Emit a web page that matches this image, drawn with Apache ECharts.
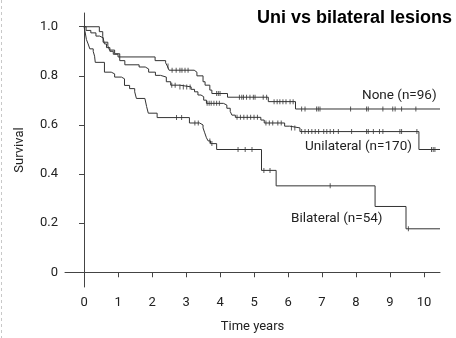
<!DOCTYPE html>
<html>
<head>
<meta charset="utf-8">
<script src="https://cdn.jsdelivr.net/npm/echarts@6/dist/echarts.min.js"></script>
<style>
html,body{margin:0;padding:0;background:#fff;}
#main{width:456px;height:338px;}
</style>
</head>
<body>
<div id="main"></div>
<script>
// ---- Data ----
var xTicks = [0,1,2,3,4,5,6,7,8,9,10];
var yTicks = [0,0.2,0.4,0.6,0.8,1.0];
var xEnd = 10.47;

// Kaplan-Meier step data: survival value from time t onwards
var noneT = [0,0.45,0.55,0.6,0.66,0.76,0.86,1.0,2.09,2.4,2.45,2.5,3.24,3.32,3.5,3.56,3.7,3.76,4.22,5.42,6.22];
var noneS = [1.0,0.98,0.96,0.93,0.915,0.90,0.888,0.877,0.862,0.853,0.84,0.823,0.815,0.80,0.776,0.762,0.742,0.728,0.713,0.695,0.665];

var uniT = [0,0.06,0.2,0.35,0.46,0.56,0.7,0.75,0.9,1.05,1.2,1.62,1.8,1.9,2.1,2.25,2.42,2.55,2.82,3.15,3.25,3.35,3.44,3.52,3.6,4.1,4.2,4.3,4.35,4.45,5.2,5.3,5.9,6.05,6.35,9.85];
var uniS = [1.0,0.985,0.975,0.962,0.955,0.937,0.922,0.905,0.89,0.862,0.845,0.836,0.828,0.815,0.802,0.795,0.776,0.762,0.755,0.745,0.735,0.722,0.715,0.701,0.688,0.681,0.668,0.655,0.64,0.631,0.62,0.608,0.595,0.588,0.573,0.50];

var biT = [0,0.03,0.07,0.12,0.17,0.27,0.31,0.33,0.6,0.8,0.9,1.1,1.19,1.34,1.49,1.54,1.79,1.84,1.89,2.15,3.1,3.4,3.5,3.55,3.6,3.65,3.72,3.9,5.22,5.65,8.56,9.47];
var biS = [1.0,0.98,0.948,0.93,0.91,0.90,0.88,0.855,0.815,0.808,0.795,0.788,0.761,0.748,0.735,0.708,0.70,0.675,0.648,0.63,0.608,0.60,0.588,0.568,0.548,0.535,0.524,0.50,0.415,0.352,0.268,0.177];

// Censoring times
var noneCensor = [2.47,2.59,2.71,2.82,2.88,2.97,3.06,3.9,3.95,4.0,4.57,4.64,4.69,4.78,4.88,4.98,5.03,5.27,5.37,5.59,5.68,5.76,5.85,5.94,6.06,6.15,6.4,6.5,6.84,6.89,6.94,7.84,8.31,8.36,8.79,9.08,9.15,9.34,9.76];
var uniCensor = [2.58,2.68,2.82,2.92,3.02,3.12,3.62,3.68,3.74,3.82,3.9,3.98,4.5,4.6,4.7,4.8,4.9,5.0,5.1,5.35,5.45,5.55,5.7,5.8,6.1,6.2,6.4,6.5,6.6,6.7,6.8,6.9,7.05,7.14,7.24,7.34,7.48,7.87,8.31,8.36,8.51,8.69,8.79,9.29,9.34,9.79,10.22,10.27,10.32];
var biCensor = [2.72,2.87,3.26,3.36,3.7,3.76,4.53,4.74,4.94,5.29,5.47,7.24,9.54];

var groupNames = ['None (n=96)','Unilateral (n=170)','Bilateral (n=54)'];

// ---- build series from data ----
function stepPoints(T, S) {
  var pts = T.map(function (t, i) { return [t, S[i]]; });
  pts.push([xEnd, S[S.length - 1]]);
  return pts;
}
function survAt(T, S, t) {
  var v = S[0];
  for (var i = 0; i < T.length; i++) { if (T[i] <= t) v = S[i]; }
  return v;
}
function censorPoints(T, S, C) {
  return C.map(function (t) { return [t, survAt(T, S, t)]; });
}

var lineColor = '#333';
function kmLine(name, T, S) {
  return {
    name: name, type: 'line', step: 'end', data: stepPoints(T, S),
    symbol: 'none', lineStyle: { color: lineColor, width: 1 }, silent: true, z: 2
  };
}
function censorSeries(name, T, S, C) {
  return {
    name: name + ' censor', type: 'scatter', data: censorPoints(T, S, C),
    symbol: 'rect', symbolSize: [1, 5], itemStyle: { color: lineColor }, silent: true, z: 3
  };
}

var chart = echarts.init(document.getElementById('main'), null, { renderer: 'canvas' });
var axisFont = 'Roboto, "DejaVu Sans", sans-serif';
chart.setOption({
  animation: false,
  backgroundColor: '#fff',
  title: {
    text: 'Uni vs bilateral lesions',
    right: 4, top: 9, padding: 0,
    textStyle: { fontFamily: 'Liberation Sans, Arial, sans-serif', fontWeight: 'bold', fontSize: 18, color: '#000' }
  },
  grid: { left: 65, right: 16, top: 13, bottom: 46 },
  xAxis: {
    type: 'value', min: -0.56, max: 10.47,
    name: 'Time years', nameLocation: 'middle', nameGap: 33,
    nameTextStyle: { fontFamily: axisFont, fontSize: 13, color: '#222' },
    axisLine: { show: true, lineStyle: { color: '#444', width: 1 } },
    axisTick: { show: true, length: 5, lineStyle: { color: '#444' }, customValues: xTicks },
    axisLabel: { fontFamily: axisFont, fontSize: 13, color: '#222', margin: 9, customValues: xTicks, formatter: function (v) { return String(v); } },
    splitLine: { show: false }
  },
  yAxis: {
    type: 'value', min: -0.06, max: 1.056,
    name: 'Survival', nameLocation: 'middle', nameGap: 39,
    nameTextStyle: { fontFamily: axisFont, fontSize: 13, color: '#222' },
    axisLine: { show: true, lineStyle: { color: '#444', width: 1 } },
    axisTick: { show: true, length: 5, lineStyle: { color: '#444' }, customValues: yTicks },
    axisLabel: { fontFamily: axisFont, fontSize: 13, color: '#222', margin: 7, customValues: yTicks,
      formatter: function (v) { return Math.abs(v) < 1e-9 ? '0' : v.toFixed(1); } },
    splitLine: { show: false }
  },
  graphic: [
    { type: 'line', shape: { x1: 1.5, y1: 0, x2: 1.5, y2: 338 }, style: { stroke: '#c8c8c8', lineWidth: 1, lineDash: [3, 3] } },
    { type: 'text', left: 362, top: 89, style: { text: groupNames[0], fontFamily: axisFont, fontSize: 13.5, fill: '#222' } },
    { type: 'text', left: 305, top: 140, style: { text: groupNames[1], fontFamily: axisFont, fontSize: 13.5, fill: '#222' } },
    { type: 'text', left: 291, top: 212, style: { text: groupNames[2], fontFamily: axisFont, fontSize: 13.5, fill: '#222' } }
  ],
  series: [
    kmLine('None', noneT, noneS),
    kmLine('Unilateral', uniT, uniS),
    kmLine('Bilateral', biT, biS),
    censorSeries('None', noneT, noneS, noneCensor),
    censorSeries('Unilateral', uniT, uniS, uniCensor),
    censorSeries('Bilateral', biT, biS, biCensor)
  ]
});
</script>
</body>
</html>
